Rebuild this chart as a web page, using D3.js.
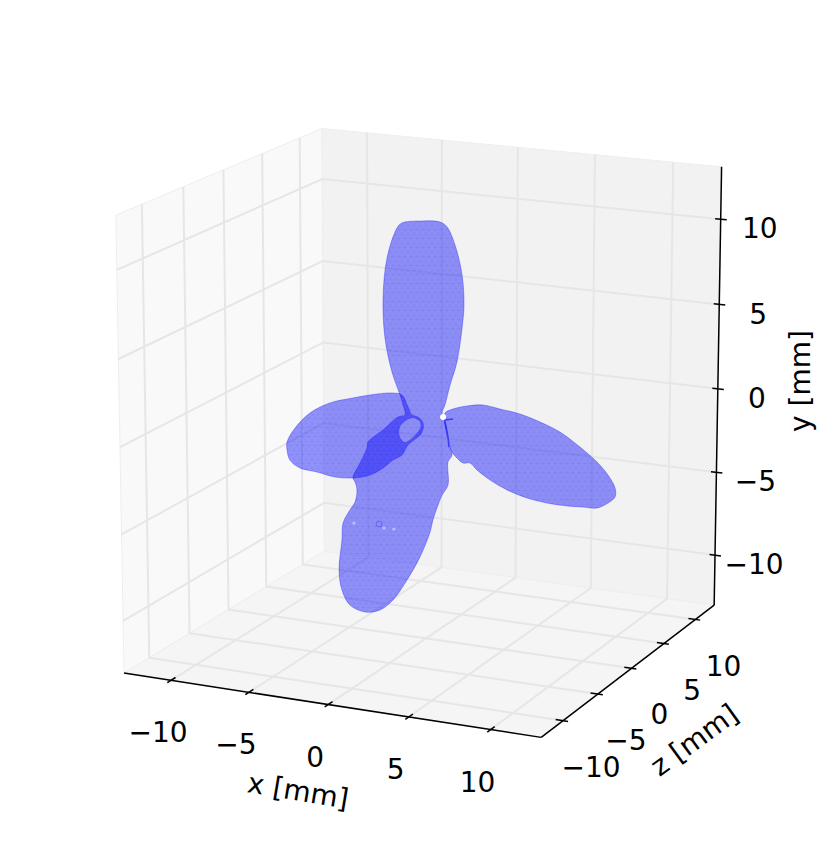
<!DOCTYPE html>
<head>
<meta charset="utf-8">
<script src="https://d3js.org/d3.v7.min.js"></script>
<style>
  body { margin:0; background:#fff; }
  text { font-family:"DejaVu Sans"; font-size:28px; fill:#000; }
  .grid { fill:none; stroke:#e6e6e6; stroke-width:2px; }
  .axis { fill:none; stroke:#000; stroke-width:1.5px; }
  .blade { fill:#0000ff; fill-opacity:.41; fill-rule:evenodd; }
  .edge { fill:none; stroke:#0000ff; stroke-opacity:.3; stroke-width:1px; }
  .mesh { fill:url(#mesh); fill-rule:evenodd; }
</style>
</head>
<body>
<script>
  // ticks, all three axes use the same ones
  var xTicks = [-10, -5, 0, 5, 10];
  var yTicks = [-10, -5, 0, 5, 10];
  var zTicks = [-10, -5, 0, 5, 10];
  var axisLimit = 13.05;

  // camera (elev/azim as in mplot3d)
  var elev = 15, azim = -65.1, dist = 9.96;

  // blade outlines, [horizontal mm, vertical mm] in the view plane
  var centralBlade = [[-1.44,12.81],[-1.13,13.13],[.13,13.25],[1.25,13.19],[1.69,12.88],[2.19,11.75],[2.63,9.88],
    [2.75,8],[2.63,6.56],[2.31,4.44],[1.88,3],[1.56,1.75],[1.38,1.25],[1.56,.81],[1.75,-.56],[2,-1.38],[1.75,-1.81],
    [1.75,-3.25],[1.38,-3.88],[1.13,-4.5],[.81,-5.44],[.63,-6.19],[0,-7.75],[-.81,-9.19],[-1.69,-10.44],[-2.5,-11.06],
    [-3.44,-11.19],[-4.38,-10.75],[-4.88,-9.81],[-5.06,-8.56],[-4.88,-6.69],[-4.81,-5.63],[-4.38,-4.81],[-4.06,-4.31],
    [-3.94,-3.56],[-4.06,-3.06],[-4.19,-2.81],[-3.75,-1.88],[-3.31,-.94],[-3.25,-.56],[-2.31,.19],[-1.38,1],[-.94,1.13],
    [-1.06,1.75],[-1.25,2.38],[-1.75,3.81],[-2.19,5.94],[-2.31,8.44],[-2.06,10.94]];
  var rightBlade = [[1.56,1.25],[2.06,1.5],[2.94,1.69],[3.94,1.75],[5,1.5],[6.25,1.19],[7.5,.69],[8.75,.06],[10,-.88],
    [11.06,-1.81],[11.75,-2.63],[12.19,-3.44],[12.19,-4],[11.75,-4.38],[11.06,-4.69],[10.19,-4.63],[9.19,-4.56],
    [7.94,-4.38],[6.69,-4.06],[5.44,-3.56],[4.38,-2.94],[3.56,-2.31],[3.13,-1.88],[2.69,-1.88],[2.31,-1.56],[2,-1.19],
    [1.75,-.31],[1.56,.5]];
  var leftBlade = [[-4.19,-2.81],[-5.31,-2.75],[-6.44,-2.44],[-7.5,-2.19],[-8.13,-1.69],[-8.31,-1.06],[-8.31,-.56],
    [-7.81,.31],[-6.88,1.25],[-5.63,1.88],[-4.19,2.19],[-2.69,2.44],[-1.69,2.5],[-1.13,2.38],[-.75,1.63],[-.5,1.13],
    [-.13,1],[.19,.63],[.1,0],[-.75,-.75],[-1.13,-1.38],[-1.69,-1.69],[-2.31,-2.19],[-3.13,-2.63]];
  var knob = [[-1.25,.38],[-.81,.81],[-.44,.94],[0,.69],[0,.31],[-.44,-.25],[-.94,-.56],[-1.25,-.25]];
  // little gaps in the surface
  var gaps = [[1.44,1],[-4.13,-5.63],[-2.25,-5.94],[-1.63,-6]];
  var dimple = [[-2.56,-5.69]];
  // dark seams where the right blade meets the hub
  var seams = [[[1.56,.69],[1.75,-.13],[1.81,-.88]], [[1.56,.81],[2.06,.88]]];

  var width = 831, height = 857;

  var a = azim * Math.PI / 180, e = elev * Math.PI / 180;
  var eye = [Math.cos(e) * Math.cos(a), Math.cos(e) * Math.sin(a), Math.sin(e)];
  var right = [-Math.sin(a), Math.cos(a), 0];
  var up = [-Math.sin(e) * Math.cos(a), -Math.sin(e) * Math.sin(a), Math.cos(e)];

  var screenX = d3.scaleLinear().domain([-.1, .1]).range([425.96 - 448.1, 425.96 + 448.1]);
  var screenY = d3.scaleLinear().domain([-.1, .1]).range([417.3 + 461.8, 417.3 - 461.8]);

  // x runs along the front, z goes into the picture, y is up
  function project(x, y, z) {
    var X = x / (2 * axisLimit), Y = z / (2 * axisLimit), Z = y / (2 * axisLimit);
    var d = dist - (X * eye[0] + Y * eye[1] + Z * eye[2]);
    return [screenX((X * right[0] + Y * right[1]) / d), screenY((X * up[0] + Y * up[1] + Z * up[2]) / d)];
  }

  // flat scales for the outlines
  var bladeX = d3.scaleLinear().domain([0, 1]).range([420, 436]);
  var bladeY = d3.scaleLinear().domain([0, 1]).range([433, 417]);

  var svg = d3.select("body").append("svg")
    .attr("width", width)
    .attr("height", height)
    .style("display", "block");

  var mesh = svg.append("defs").append("pattern")
    .attr("id", "mesh")
    .attr("patternUnits", "userSpaceOnUse")
    .attr("width", 6)
    .attr("height", 9);
  mesh.append("path")
    .attr("d", "M0 0H6M0 4.5H6M0 0L3 4.5L6 0M0 9L3 4.5L6 9")
    .attr("fill", "none")
    .attr("stroke", "#2020c0")
    .attr("stroke-opacity", .1)
    .attr("stroke-width", .6);

  var L = axisLimit;
  var straight = d3.line();

  // panes
  var panes = [
    { fill:"#f9f9f9", pts:[[-L,-L,-L],[-L,L,-L],[-L,L,L],[-L,-L,L]] },
    { fill:"#f2f2f2", pts:[[-L,-L,L],[-L,L,L],[L,L,L],[L,-L,L]] },
    { fill:"#f5f5f5", pts:[[-L,-L,-L],[-L,-L,L],[L,-L,L],[L,-L,-L]] }
  ];
  svg.selectAll(".pane").data(panes).enter().append("path")
    .attr("class", "pane")
    .attr("d", function(d) { return straight(d.pts.map(function(p) { return project(p[0], p[1], p[2]); })) + "Z"; })
    .attr("fill", function(d) { return d.fill; })
    .attr("stroke", "#eeeeee")
    .attr("stroke-width", 1);

  // grid lines, they turn a corner where two panes meet
  var gridLines = [];
  xTicks.forEach(function(t) {
    gridLines.push([[t,-L,-L],[t,-L,L],[t,L,L]]);
  });
  yTicks.forEach(function(t) {
    gridLines.push([[-L,t,-L],[-L,t,L],[L,t,L]]);
  });
  zTicks.forEach(function(t) {
    gridLines.push([[L,-L,t],[-L,-L,t],[-L,L,t]]);
  });
  svg.selectAll(".grid").data(gridLines).enter().append("path")
    .attr("class", "grid")
    .attr("d", function(d) { return straight(d.map(function(p) { return project(p[0], p[1], p[2]); })); });

  // axis lines and ticks
  var axisLines = [[[-L,-L,-L],[L,-L,-L]], [[L,-L,-L],[L,-L,L]], [[L,-L,L],[L,L,L]]];
  xTicks.forEach(function(t) { axisLines.push([[t,-L,-L-.45],[t,-L,-L+.55]]); });
  zTicks.forEach(function(t) { axisLines.push([[L-.45,-L,t],[L+.3,-L,t]]); });
  yTicks.forEach(function(t) { axisLines.push([[L-.35,t,L],[L+.38,t,L]]); });
  svg.selectAll(".axis").data(axisLines).enter().append("path")
    .attr("class", "axis")
    .attr("d", function(d) { return straight(d.map(function(p) { return project(p[0], p[1], p[2]); })); });

  // blades
  var smooth = d3.line()
    .x(function(d) { return bladeX(d[0]); })
    .y(function(d) { return bladeY(d[1]); })
    .curve(d3.curveCatmullRomClosed.alpha(.5));

  var bladePaths = [smooth(leftBlade) + smooth(knob), smooth(rightBlade), smooth(centralBlade)];
  svg.selectAll(".blade").data(bladePaths).enter().append("path")
    .attr("class", "blade")
    .attr("d", function(d) { return d; });
  svg.selectAll(".mesh").data(bladePaths).enter().append("path")
    .attr("class", "mesh")
    .attr("d", function(d) { return d; });
  svg.selectAll(".edge").data([leftBlade, rightBlade, centralBlade]).enter().append("path")
    .attr("class", "edge")
    .attr("d", smooth);

  var seamLine = d3.line()
    .x(function(d) { return bladeX(d[0]); })
    .y(function(d) { return bladeY(d[1]); })
    .curve(d3.curveBasis);
  svg.selectAll(".seam").data(seams).enter().append("path")
    .attr("class", "seam")
    .attr("d", seamLine)
    .attr("fill", "none")
    .attr("stroke", "#2a2af5")
    .attr("stroke-opacity", .8)
    .attr("stroke-width", 1.5);

  svg.selectAll(".gap").data(gaps).enter().append("circle")
    .attr("class", "gap")
    .attr("cx", function(d) { return bladeX(d[0]); })
    .attr("cy", function(d) { return bladeY(d[1]); })
    .attr("r", function(d, i) { return i == 0 ? 3 : 1.6; })
    .attr("fill", "#fff")
    .attr("fill-opacity", function(d, i) { return i == 0 ? 1 : .45; });

  svg.selectAll(".dimple").data(dimple).enter().append("circle")
    .attr("class", "dimple")
    .attr("cx", function(d) { return bladeX(d[0]); })
    .attr("cy", function(d) { return bladeY(d[1]); })
    .attr("r", 3)
    .attr("fill", "none")
    .attr("stroke", "#3a3ae0")
    .attr("stroke-opacity", .45);

  // tick labels
  var fmt = d3.format("d");
  function tickLabels(ticks, pos, dx, dy) {
    svg.append("g").selectAll("text").data(ticks).enter().append("text")
      .attr("x", function(d) { return pos(d)[0] + dx; })
      .attr("y", function(d) { return pos(d)[1] + dy; })
      .attr("dy", ".36em")
      .attr("text-anchor", "middle")
      .text(fmt);
  }
  tickLabels(xTicks, function(t) { return project(t, -L, -L); }, -13, 52);
  tickLabels(zTicks, function(t) { return project(L, -L, t); }, 28, 46);
  tickLabels(yTicks, function(t) { return project(L, t, L); }, 39, 9);

  // axis labels
  var axisLabels = [
    { text:"x [mm]", x:298, y:792, rot:9.5 },
    { text:"z [mm]", x:695, y:741, rot:-36 },
    { text:"y [mm]", x:802, y:381, rot:-90 }
  ];
  svg.selectAll(".label").data(axisLabels).enter().append("text")
    .attr("class", "label")
    .attr("text-anchor", "middle")
    .attr("dy", ".3em")
    .attr("transform", function(d) { return "translate(" + d.x + "," + d.y + ") rotate(" + d.rot + ")"; })
    .text(function(d) { return d.text; });
</script>
</body>
